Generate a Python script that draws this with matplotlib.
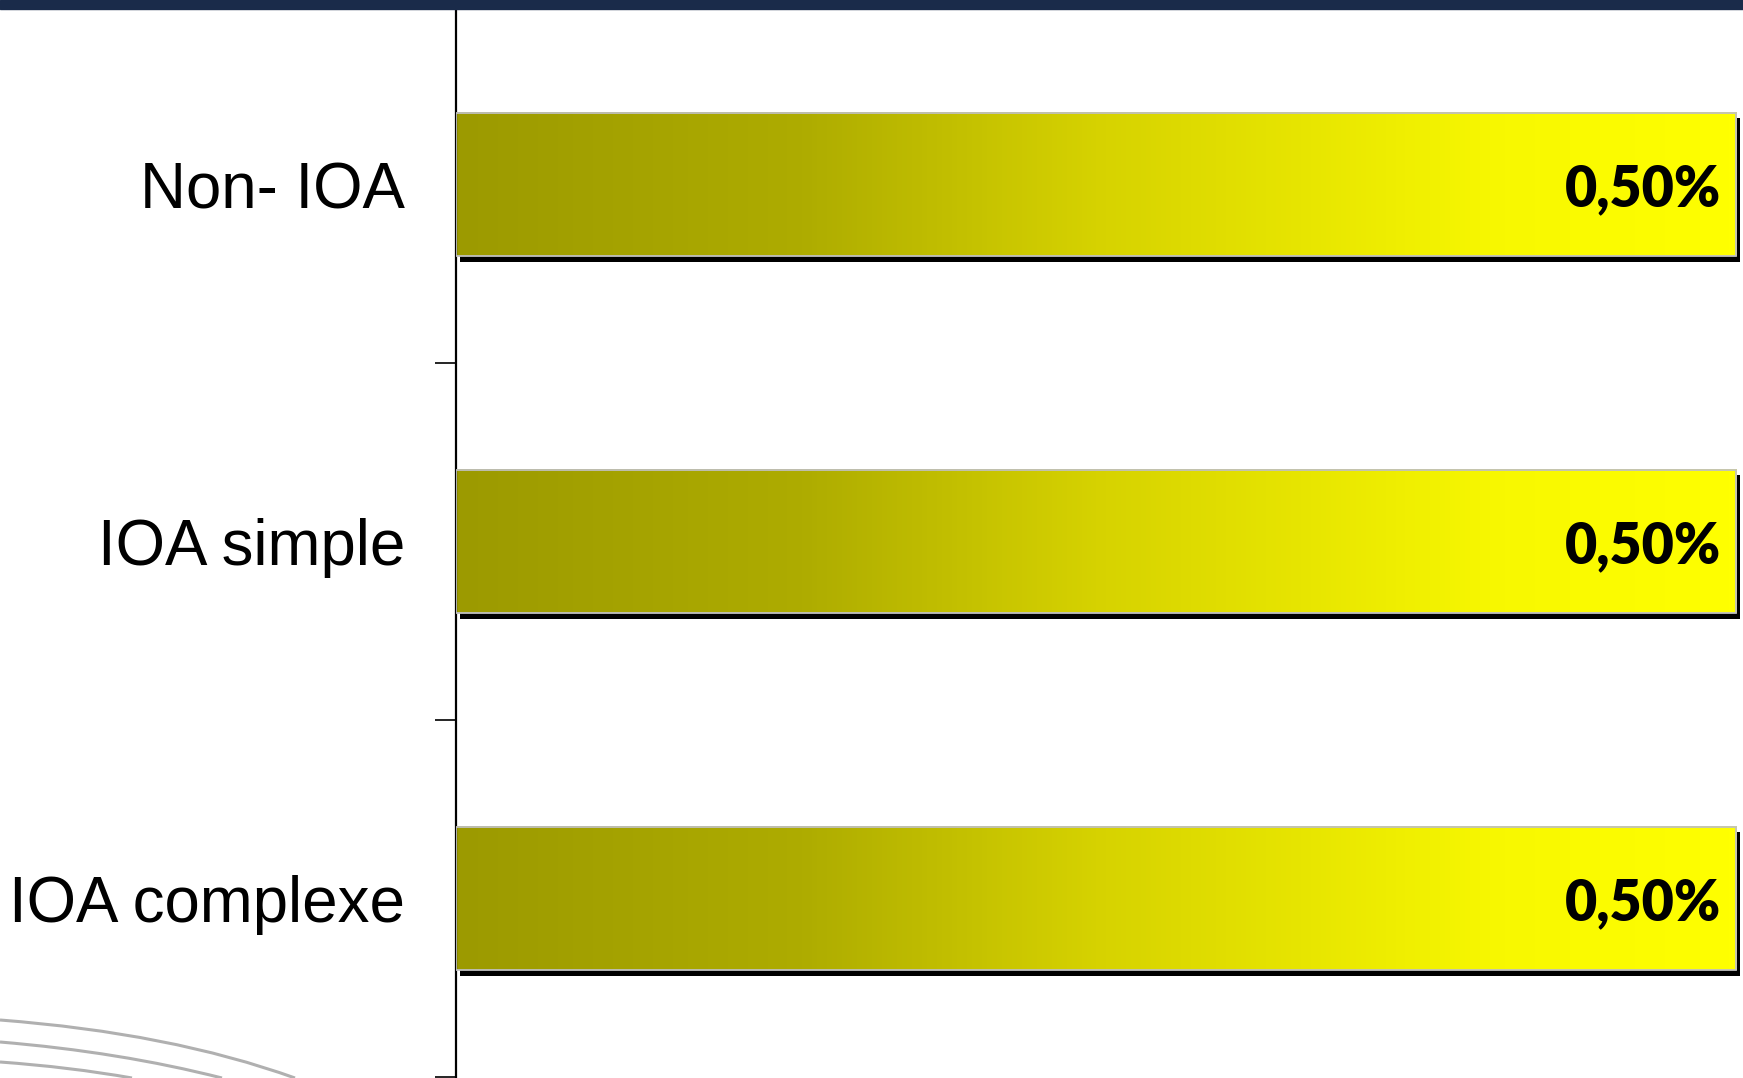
import numpy as np
import matplotlib
matplotlib.use("Agg")
import matplotlib.pyplot as plt
import matplotlib.patheffects as pe
from matplotlib.colors import LinearSegmentedColormap
from matplotlib.patches import Rectangle, PathPatch
from matplotlib.path import Path

# data
categories = ["Non- IOA", "IOA simple", "IOA complexe"]
values = [0.50, 0.50, 0.50]
value_labels = ["0,50%", "0,50%", "0,50%"]

W, H = 1743, 1078
fig = plt.figure(figsize=(W / 100, H / 100), dpi=100)
fig.patch.set_facecolor("white")

# axes placed in pixel terms of the reference
ax_left, ax_right = 456, 1743
ax_top, ax_bot = 6, 1077
ax = fig.add_axes([ax_left / W, (H - ax_bot) / H, (ax_right - ax_left) / W, (ax_bot - ax_top) / H])

y = np.arange(len(categories))
bar_h = 0.403

# shadow layer (black, offset down-right)
shadow = ax.barh(y, values, height=bar_h, color="black", zorder=1)
for p in shadow:
    p.set_path_effects([pe.SimplePatchShadow(offset=(3, -4), shadow_rgbFace="black", alpha=1.0), pe.Normal()])

# gradient fill
grad = LinearSegmentedColormap.from_list("olive_yellow", [
    (0.0, "#9c9a00"),
    (0.27, "#aeac00"),
    (0.5, "#d6d200"),
    (0.82, "#f8f800"),
    (1.0, "#ffff00"),
])
g = np.linspace(0, 1, 256).reshape(1, -1)
for p in shadow:
    x0, y0 = p.get_x(), p.get_y()
    ax.imshow(g, cmap=grad, aspect="auto", interpolation="bilinear",
              extent=(x0, x0 + p.get_width(), y0 + p.get_height(), y0), zorder=2)

# light grey outline
ax.barh(y, values, height=bar_h, fill=False, edgecolor="#c0c0c0", linewidth=1.3, zorder=3)

for yi, v, lab in zip(y, values, value_labels):
    ax.annotate(lab, (v, yi), xytext=(-11, 0), textcoords="offset points",
                ha="right", va="center_baseline", fontsize=40, fontweight="heavy",
                family="Lato", color="black", zorder=4)

ax.set_xlim(0, 0.5 * (ax_right - ax_left) / (1736 - ax_left))
ax.set_ylim(len(categories) - 0.5, -0.5)

ax.set_yticks(y)
ax.set_yticklabels(categories, fontsize=45.8, family="Liberation Sans")
ax.set_yticks(np.arange(len(categories) + 1) - 0.5, minor=True)
ax.tick_params(axis="y", which="major", length=0, pad=36.5)
ax.tick_params(axis="y", which="minor", length=15, width=1.2, direction="out", color="black")
ax.set_xticks([])
for s in ["top", "right", "bottom"]:
    ax.spines[s].set_visible(False)
ax.spines["left"].set_linewidth(1.6)
ax.spines["left"].set_color("black")
ax.set_facecolor("none")

# slide decoration: dark band on top, grey arcs bottom left
fig.add_artist(Rectangle((0, 1 - 8.5 / H), 1, 8.5 / H, transform=fig.transFigure,
                         color="#1a2b4a", zorder=10))
arcs = [
    [(0, 1020), (170, 1033), (295, 1078)],
    [(0, 1042), (120, 1052), (222, 1078)],
    [(0, 1062), (70, 1067), (132, 1078)],
]
for pts in arcs:
    verts = [(px / W, (H - py) / H) for px, py in pts]
    path = Path(verts, [Path.MOVETO, Path.CURVE3, Path.CURVE3])
    fig.add_artist(PathPatch(path, transform=fig.transFigure, fill=False,
                             edgecolor="#b0b0b0", linewidth=2.2, zorder=0))

fig.savefig("out.png", dpi=100)
